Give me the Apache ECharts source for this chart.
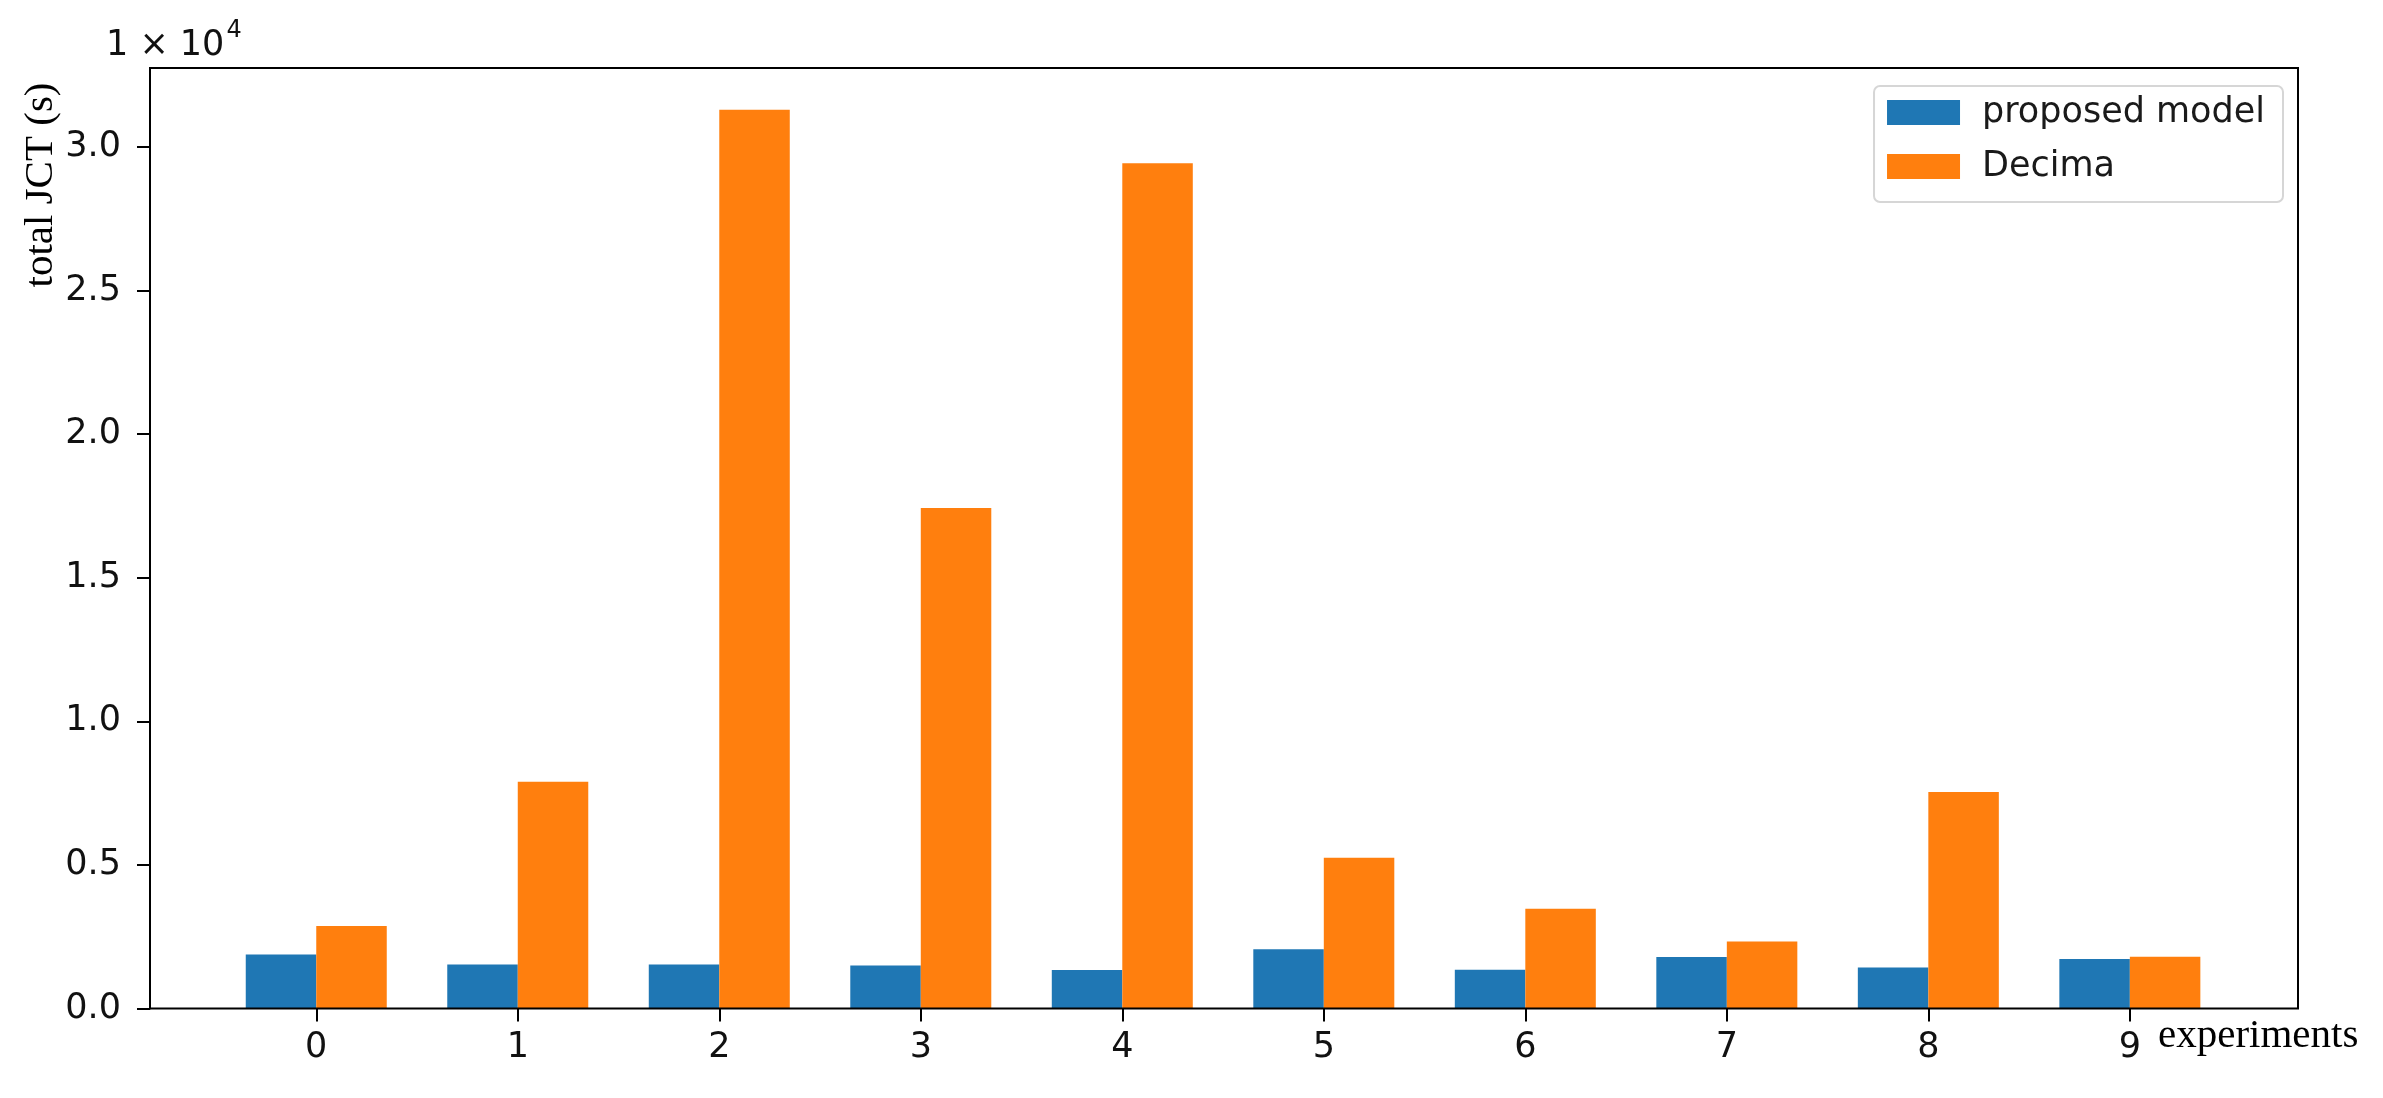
<!DOCTYPE html>
<html>
<head>
<meta charset="utf-8">
<title>total JCT</title>
<script src="https://cdn.jsdelivr.net/npm/echarts@6/dist/echarts.min.js"></script>
<style>
  html, body { margin: 0; padding: 0; background: #fff; }
  #chart { width: 2383px; height: 1098px; }
</style>
</head>
<body>
<div id="chart"></div>
<script>
// experiments on the x axis
const experiments = ['0', '1', '2', '3', '4', '5', '6', '7', '8', '9'];
// total JCT in seconds
const proposedModel = [1880, 1530, 1530, 1500, 1340, 2060, 1350, 1790, 1430, 1720];
const decima = [2870, 7900, 31300, 17430, 29430, 5250, 3470, 2330, 7540, 1800];
// y ticks (labels shown in units of 1e4)
const yTicks = [0, 5000, 10000, 15000, 20000, 25000, 30000];
const yMax = 32750;

const tickFont = 'DejaVu Sans';
const serifFont = 'Liberation Serif';

const chart = echarts.init(document.getElementById('chart'));

const option = {
  backgroundColor: '#fff',
  animation: false,
  title: {
    left: 101,
    top: 14,
    text: '{a|1 × 10}{b|4}',
    textStyle: {
      fontWeight: 'normal',
      rich: {
        a: { fontFamily: tickFont, fontSize: 35, fontWeight: 'normal', color: '#111', lineHeight: 44, verticalAlign: 'bottom' },
        b: { fontFamily: tickFont, fontSize: 24, fontWeight: 'normal', color: '#111', lineHeight: 44, verticalAlign: 'top', padding: [0, 0, 0, 2] }
      }
    }
  },
  legend: {
    orient: 'vertical',
    right: 100,
    top: 86,
    data: ['proposed model', 'Decima'],
    icon: 'rect',
    itemWidth: 73,
    itemHeight: 25,
    itemGap: 19,
    padding: [9, 18, 18, 13],
    borderColor: '#d6d6d6',
    borderWidth: 2,
    borderRadius: 6,
    backgroundColor: '#fff',
    textStyle: { fontFamily: tickFont, fontSize: 35, color: '#1a1a1a', padding: [0, 0, 0, 17] }
  },
  grid: [
    // bars
    { left: 215.5, right: 152.4, top: 68, bottom: 89.5 },
    // frame
    { left: 150, right: 85, top: 68, bottom: 89.5, show: true, borderColor: '#000', borderWidth: 2, backgroundColor: 'transparent', z: 10 }
  ],
  xAxis: [
    {
      gridIndex: 0,
      type: 'category',
      data: experiments,
      axisLine: { show: false },
      axisTick: { show: true, alignWithLabel: true, length: 13, lineStyle: { color: '#000', width: 2 } },
      axisLabel: { fontFamily: tickFont, fontSize: 35, color: '#111', margin: 22 },
      splitLine: { show: false }
    },
    { gridIndex: 1, type: 'value', show: false }
  ],
  yAxis: [
    {
      gridIndex: 0,
      type: 'value',
      min: 0,
      max: yMax,
      offset: 65.5,
      axisLine: { show: true, lineStyle: { color: '#000', width: 2 } },
      axisTick: { show: true, length: 13, lineStyle: { color: '#000', width: 2 }, customValues: yTicks },
      axisLabel: {
        fontFamily: tickFont, fontSize: 35, color: '#111', margin: 29,
        customValues: yTicks,
        formatter: v => (v / 10000).toFixed(1)
      },
      splitLine: { show: false }
    },
    { gridIndex: 1, type: 'value', show: false }
  ],
  graphic: [
    {
      type: 'text',
      x: 41,
      y: 185,
      rotation: Math.PI / 2,
      style: {
        text: 'total JCT (s)',
        fontFamily: serifFont,
        fontSize: 41,
        fill: '#000',
        align: 'center',
        verticalAlign: 'middle'
      }
    },
    {
      type: 'text',
      x: 2158,
      y: 1036,
      style: {
        text: 'experiments',
        fontFamily: serifFont,
        fontSize: 41,
        fill: '#000',
        align: 'left',
        verticalAlign: 'middle'
      }
    }
  ],
  series: [
    {
      name: 'proposed model',
      type: 'bar',
      xAxisIndex: 0,
      yAxisIndex: 0,
      data: proposedModel,
      barWidth: 70.5,
      barGap: '0%',
      itemStyle: { color: '#1f77b4' }
    },
    {
      name: 'Decima',
      type: 'bar',
      xAxisIndex: 0,
      yAxisIndex: 0,
      data: decima,
      barWidth: 70.5,
      barGap: '0%',
      itemStyle: { color: '#ff7f0e' }
    }
  ]
};

chart.setOption(option);
</script>
</body>
</html>
